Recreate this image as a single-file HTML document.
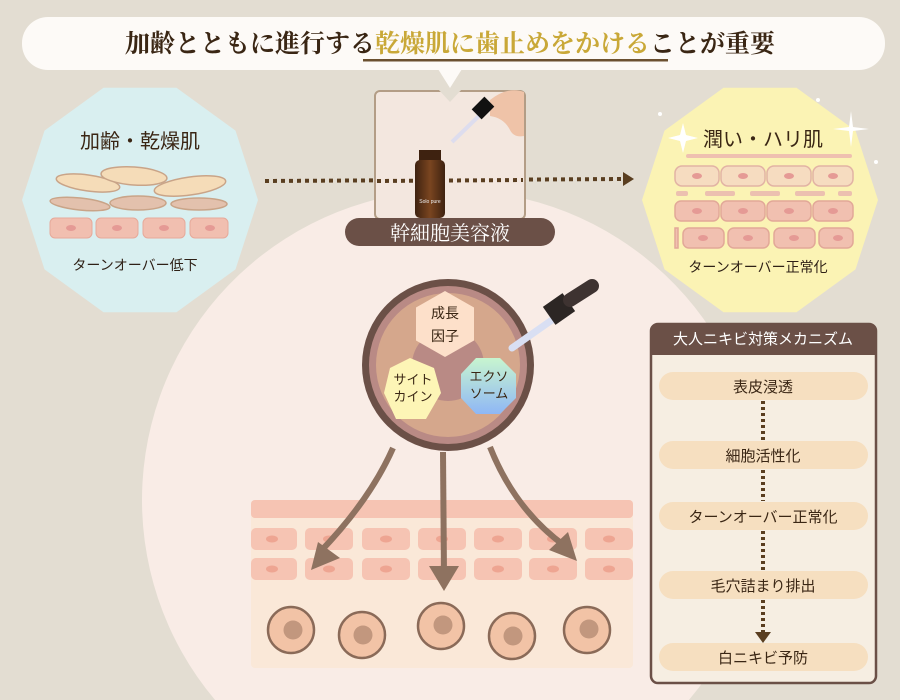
<!DOCTYPE html>
<html><head><meta charset="utf-8"><style>
html,body{margin:0;padding:0;width:900px;height:700px;overflow:hidden;background:#e3ddd2;}
svg{display:block}
text{font-family:"Liberation Sans","Noto Sans CJK JP",sans-serif;}
.serif{font-family:"Liberation Serif","Noto Serif CJK SC",serif;}
</style></head><body>
<svg width="900" height="700" viewBox="0 0 900 700" xmlns="http://www.w3.org/2000/svg">
<defs>
<linearGradient id="exo" x1="0" y1="0" x2="0" y2="1"><stop offset="0" stop-color="#c8f5cf"/><stop offset="1" stop-color="#8fb7f5"/></linearGradient>
<linearGradient id="bot" x1="0" y1="0" x2="1" y2="0"><stop offset="0" stop-color="#3e2210"/><stop offset=".5" stop-color="#7a4520"/><stop offset="1" stop-color="#3e2210"/></linearGradient>
</defs>
<rect width="900" height="700" fill="#e3ddd2"/>
<path d="M215.1,700 A310,310 0 1 1 688.9,700 Z" fill="#f9ece6"/>
<!-- title bubble -->
<rect x="22" y="17" width="863" height="53" rx="26" fill="#fdfaf7"/>
<polygon points="438,69 462,69 450,88" fill="#fdfaf7"/>
<text x="450" y="52" text-anchor="middle" class="serif" font-size="25" font-weight="bold" fill="#3a2614">加齢とともに進行する<tspan fill="#c9a838">乾燥肌に歯止めをかける</tspan>ことが重要</text>
<rect x="363" y="59" width="305" height="2.5" fill="#6b5030"/>
<!-- left decagon -->
<polygon points="258,200 235.5,269.4 176.5,312.2 103.5,312.2 44.5,269.4 22,200 44.5,130.6 103.5,87.8 176.5,87.8 235.5,130.6" fill="#d9eff0"/>
<text x="140" y="148" text-anchor="middle" font-size="20" fill="#3a2614">加齢・乾燥肌</text>
<g stroke="#c9a488" stroke-width="1.5">
<ellipse cx="88" cy="183" rx="32" ry="8" fill="#f5dcb8" transform="rotate(8 88 183)"/>
<ellipse cx="134" cy="176" rx="33" ry="9" fill="#f5dcb8" transform="rotate(4 134 176)"/>
<ellipse cx="190" cy="186" rx="36" ry="9" fill="#f5dcb8" transform="rotate(-8 190 186)"/>
<ellipse cx="80" cy="204" rx="30" ry="6" fill="#e3c1ad" transform="rotate(6 80 204)"/>
<ellipse cx="138" cy="203" rx="28" ry="7" fill="#e3c1ad"/>
<ellipse cx="199" cy="204" rx="28" ry="6" fill="#e3c1ad"/>
</g>
<g fill="#f1bfb0" stroke="#e6a99a">
<rect x="50" y="218" width="42" height="20" rx="5"/><rect x="96" y="218" width="42" height="20" rx="5"/><rect x="143" y="218" width="42" height="20" rx="5"/><rect x="190" y="218" width="38" height="20" rx="5"/>
</g>
<g fill="#e59a95"><ellipse cx="71" cy="228" rx="5" ry="3"/><ellipse cx="117" cy="228" rx="5" ry="3"/><ellipse cx="164" cy="228" rx="5" ry="3"/><ellipse cx="210" cy="228" rx="5" ry="3"/></g>
<text x="135" y="270" text-anchor="middle" font-size="14" fill="#2e2016">ターンオーバー低下</text>
<!-- right decagon -->
<polygon points="878,200 855.5,269.4 796.5,312.2 723.5,312.2 664.5,269.4 642,200 664.5,130.6 723.5,87.8 796.5,87.8 855.5,130.6" fill="#fbf3b4"/>
<text x="763" y="146" text-anchor="middle" font-size="20" fill="#3a2614">潤い・ハリ肌</text>
<rect x="686" y="154" width="166" height="4" rx="2" fill="#efc0b0"/>
<g fill="#f6dcc0" stroke="#e2b3a4" stroke-width="1.5">
<rect x="675" y="166" width="44" height="20" rx="7"/><rect x="721" y="166" width="44" height="20" rx="7"/><rect x="767" y="166" width="44" height="20" rx="7"/><rect x="813" y="166" width="40" height="20" rx="7"/>
</g>
<g fill="#ecc0b0"><rect x="676" y="191" width="12" height="5" rx="2"/><rect x="705" y="191" width="30" height="5" rx="2"/><rect x="750" y="191" width="30" height="5" rx="2"/><rect x="795" y="191" width="30" height="5" rx="2"/><rect x="838" y="191" width="14" height="5" rx="2"/></g>
<g fill="#f1c0b0" stroke="#e2a898" stroke-width="1.5">
<rect x="675" y="201" width="44" height="20" rx="6"/><rect x="721" y="201" width="44" height="20" rx="6"/><rect x="767" y="201" width="44" height="20" rx="6"/><rect x="813" y="201" width="40" height="20" rx="6"/>
<rect x="675" y="228" width="3" height="20"/><rect x="683" y="228" width="41" height="20" rx="6"/><rect x="728" y="228" width="41" height="20" rx="6"/><rect x="774" y="228" width="41" height="20" rx="6"/><rect x="819" y="228" width="34" height="20" rx="6"/>
</g>
<g fill="#e59a95"><ellipse cx="697" cy="176" rx="5" ry="3"/><ellipse cx="743" cy="176" rx="5" ry="3"/><ellipse cx="789" cy="176" rx="5" ry="3"/><ellipse cx="833" cy="176" rx="5" ry="3"/>
<ellipse cx="697" cy="211" rx="5" ry="3"/><ellipse cx="743" cy="211" rx="5" ry="3"/><ellipse cx="789" cy="211" rx="5" ry="3"/><ellipse cx="833" cy="211" rx="5" ry="3"/>
<ellipse cx="703" cy="238" rx="5" ry="3"/><ellipse cx="748" cy="238" rx="5" ry="3"/><ellipse cx="794" cy="238" rx="5" ry="3"/><ellipse cx="838" cy="238" rx="5" ry="3"/></g>
<text x="758" y="272" text-anchor="middle" font-size="14" fill="#2e2016">ターンオーバー正常化</text>
<g fill="#fff"><path d="M680,135 l3,-12 l3,12 l12,3 l-12,3 l-3,12 l-3,-12 l-12,-3z"/><path d="M849,127 l2,-16 l2,16 l16,2 l-16,2 l-2,16 l-2,-16 l-16,-2z"/><circle cx="660" cy="114" r="2"/><circle cx="818" cy="100" r="2"/><circle cx="876" cy="162" r="2"/></g>
<!-- dotted arrow -->
<line x1="265" y1="181" x2="624" y2="179" stroke="#5a3e20" stroke-width="4" stroke-dasharray="4,4"/>
<polygon points="623,172 634,179 623,186" fill="#5a3e20"/>
<!-- product box -->
<rect x="375" y="91" width="150" height="128" rx="5" fill="#f3e7df" stroke="#b39d86" stroke-width="2"/>
<polygon points="438,89 462,89 450,102" fill="#e3ddd2"/>
<line x1="377" y1="181" x2="523" y2="180" stroke="#5a3e20" stroke-width="4" stroke-dasharray="4,4"/>
<rect x="419" y="150" width="22" height="12" fill="#3e2210"/>
<rect x="415" y="160" width="30" height="58" rx="5" fill="url(#bot)"/>
<text x="430" y="203" text-anchor="middle" font-size="5" fill="#eee">Solo pure</text>
<path d="M490,100 q18,-14 34,-8 l0,44 q-10,2 -14,-6 q-6,-12 -20,-14z" fill="#efc3a8"/>
<line x1="452" y1="142" x2="482" y2="113" stroke="#dde" stroke-width="4"/>
<rect x="476" y="99" width="14" height="18" fill="#111" transform="rotate(45 483 108)"/>
<rect x="345" y="218" width="210" height="28" rx="14" fill="#6b5047"/>
<text x="450" y="240" text-anchor="middle" class="serif" font-size="20" fill="#fff">幹細胞美容液</text>
<!-- center circle -->
<circle cx="448" cy="365" r="86" fill="#6b5047"/>
<circle cx="448" cy="365" r="79" fill="#b98a85"/>
<circle cx="448" cy="365" r="72" fill="#d5a78c"/>
<circle cx="448" cy="365" r="36" fill="#b98a85"/>
<polygon points="445,291 474,307.5 474,340.5 445,357 416,340.5 416,307.5" fill="#fde0ca"/>
<text x="445" y="318" text-anchor="middle" font-size="14" fill="#3a2614">成長</text>
<text x="445" y="341" text-anchor="middle" font-size="14" fill="#3a2614">因子</text>
<polygon points="410,358 434,368 441,393 426,419 396,419 384,393 390,368" fill="#fdf5b6"/>
<text x="413" y="384" text-anchor="middle" font-size="13" fill="#3a2614">サイト</text>
<text x="413" y="401" text-anchor="middle" font-size="13" fill="#3a2614">カイン</text>
<polygon points="476,358 500,358 516,374 516,398 500,414 476,414 461,398 461,374" fill="url(#exo)"/>
<text x="489" y="381" text-anchor="middle" font-size="13" fill="#3a2614">エクソ</text>
<text x="489" y="398" text-anchor="middle" font-size="13" fill="#3a2614">ソーム</text>
<line x1="512" y1="348" x2="552" y2="320" stroke="#d9dff3" stroke-width="7" stroke-linecap="round"/>
<rect x="547" y="298" width="24" height="22" fill="#2c2624" transform="rotate(-35 559 309)"/>
<line x1="570" y1="300" x2="592" y2="286" stroke="#3e3331" stroke-width="14" stroke-linecap="round"/>
<!-- skin -->
<rect x="251" y="500" width="382" height="168" rx="4" fill="#fae8d8"/>
<rect x="251" y="500" width="382" height="18" rx="4" fill="#f6c4b3"/>
<g fill="#f6c4b3">
<rect x="251" y="528" width="46" height="22" rx="5"/><rect x="305" y="528" width="48" height="22" rx="5"/><rect x="362" y="528" width="48" height="22" rx="5"/><rect x="418" y="528" width="48" height="22" rx="5"/><rect x="474" y="528" width="48" height="22" rx="5"/><rect x="529" y="528" width="48" height="22" rx="5"/><rect x="585" y="528" width="48" height="22" rx="5"/>
<rect x="251" y="558" width="46" height="22" rx="5"/><rect x="305" y="558" width="48" height="22" rx="5"/><rect x="362" y="558" width="48" height="22" rx="5"/><rect x="418" y="558" width="48" height="22" rx="5"/><rect x="474" y="558" width="48" height="22" rx="5"/><rect x="529" y="558" width="48" height="22" rx="5"/><rect x="585" y="558" width="48" height="22" rx="5"/>
</g>
<g fill="#eea592">
<ellipse cx="272" cy="539" rx="6" ry="3.5"/><ellipse cx="329" cy="539" rx="6" ry="3.5"/><ellipse cx="386" cy="539" rx="6" ry="3.5"/><ellipse cx="442" cy="539" rx="6" ry="3.5"/><ellipse cx="498" cy="539" rx="6" ry="3.5"/><ellipse cx="553" cy="539" rx="6" ry="3.5"/><ellipse cx="609" cy="539" rx="6" ry="3.5"/>
<ellipse cx="272" cy="569" rx="6" ry="3.5"/><ellipse cx="329" cy="569" rx="6" ry="3.5"/><ellipse cx="386" cy="569" rx="6" ry="3.5"/><ellipse cx="442" cy="569" rx="6" ry="3.5"/><ellipse cx="498" cy="569" rx="6" ry="3.5"/><ellipse cx="553" cy="569" rx="6" ry="3.5"/><ellipse cx="609" cy="569" rx="6" ry="3.5"/>
</g>
<g fill="#f2c3a6" stroke="#8a6a58" stroke-width="2.5">
<circle cx="291" cy="630" r="23"/><circle cx="362" cy="635" r="23"/><circle cx="441" cy="626" r="23"/><circle cx="512" cy="636" r="23"/><circle cx="587" cy="630" r="23"/>
</g>
<g fill="#c2977e"><circle cx="293" cy="630" r="9.5"/><circle cx="363" cy="635" r="9.5"/><circle cx="443" cy="625" r="9.5"/><circle cx="513" cy="636" r="9.5"/><circle cx="589" cy="629" r="9.5"/></g>
<!-- arrows -->
<g stroke="#8e7260" stroke-width="6" fill="none">
<path d="M393,448 Q370,500 320,552"/>
<path d="M443,452 L444,575"/>
<path d="M490,447 Q515,510 565,546"/>
</g>
<g fill="#8e7260">
<polygon points="311,570 340,558 318,542"/>
<polygon points="429,566 459,566 444,591"/>
<polygon points="577,561 568,532 549,550"/>
</g>
<!-- right box -->
<rect x="651" y="324" width="225" height="359" rx="7" fill="#f6eee2" stroke="#6b5047" stroke-width="2.5"/>
<path d="M651,331 a7,7 0 0 1 7,-7 h211 a7,7 0 0 1 7,7 v24 h-225z" fill="#6b5047"/>
<text x="763" y="344" text-anchor="middle" font-size="15" fill="#fff">大人ニキビ対策メカニズム</text>
<g fill="#f6dfc0">
<rect x="659" y="372" width="209" height="28" rx="14"/><rect x="659" y="441" width="209" height="28" rx="14"/><rect x="659" y="502" width="209" height="28" rx="14"/><rect x="659" y="571" width="209" height="28" rx="14"/><rect x="659" y="643" width="209" height="28" rx="14"/>
</g>
<g stroke="#5a3e20" stroke-width="4" stroke-dasharray="3,3">
<line x1="763" y1="401" x2="763" y2="440"/><line x1="763" y1="470" x2="763" y2="501"/><line x1="763" y1="531" x2="763" y2="570"/><line x1="763" y1="600" x2="763" y2="632"/>
</g>
<polygon points="755,632 771,632 763,643" fill="#5a3e20"/>
<g font-size="15" fill="#3a2614" text-anchor="middle">
<text x="763" y="392">表皮浸透</text><text x="763" y="461">細胞活性化</text><text x="763" y="522">ターンオーバー正常化</text><text x="763" y="591">毛穴詰まり排出</text><text x="763" y="663">白ニキビ予防</text>
</g>
</svg>
</body></html>
